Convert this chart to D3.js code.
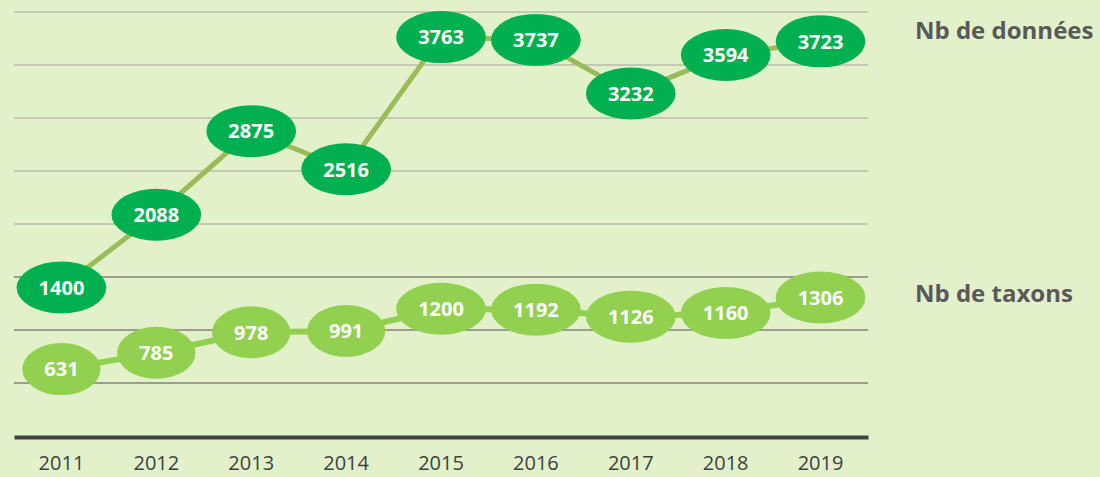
<!DOCTYPE html>
<html>
<head>
<meta charset="utf-8">
<script src="https://cdn.jsdelivr.net/npm/d3@7"></script>
<style>
  body { margin: 0; background: #e3f1cb; }
  svg { display: block; }
</style>
</head>
<body>
<svg id="chart" width="1100" height="477"></svg>
<script>
var years = ["2011", "2012", "2013", "2014", "2015", "2016", "2017", "2018", "2019"];
var donnees = [1400, 2088, 2875, 2516, 3763, 3737, 3232, 3594, 3723];
var taxons = [631, 785, 978, 991, 1200, 1192, 1126, 1160, 1306];
var gridTicks = [500, 1000, 1500, 2000, 2500, 3000, 3500, 4000];

var series = [
    {name: "Nb de données", values: donnees, line: "#9bbb59", fill: "#00b050", lw: 5, dy: -2},
    {name: "Nb de taxons", values: taxons, line: "#92d050", fill: "#92d050", lw: 6, dy: 4}
];

var svg = d3.select("#chart"),
    margin = {top: 12, left: 14},
    plotW = 854,
    plotH = 424,
    g = svg.append("g").attr("transform", "translate(" + margin.left + "," + margin.top + ")");

var x = d3.scaleBand().domain(years).range([0, plotW]);
var y = d3.scaleLinear().domain([0, 4000]).range([plotH, 0]);

function cx(i) { return x(years[i]) + x.bandwidth() / 2; }

// grid
g.append("g").selectAll("line")
    .data(gridTicks)
    .enter().append("line")
    .attr("x1", 0).attr("x2", plotW)
    .attr("y1", function (d) { return y(d); })
    .attr("y2", function (d) { return y(d); })
    .attr("stroke", function (d) { return d >= 2000 ? "#c4c8b4" : "#9a9e8c"; })
    .attr("stroke-width", 2);

// x axis
var xAxis = g.append("g")
    .attr("transform", "translate(0," + (plotH + 1) + ")")
    .call(d3.axisBottom(x).tickSize(0).tickPadding(19));
xAxis.select(".domain").attr("stroke", "#404540").attr("stroke-width", 4);
xAxis.selectAll("text")
    .attr("font-family", "'Open Sans', sans-serif")
    .attr("font-size", 20)
    .attr("fill", "#404040");

var line = d3.line()
    .x(function (d, i) { return cx(i); })
    .y(function (d) { return y(d); });

series.forEach(function (s) {
    g.append("path")
        .datum(s.values)
        .attr("fill", "none")
        .attr("stroke", s.line)
        .attr("stroke-width", s.lw)
        .attr("d", line);
});

series.forEach(function (s) {
    var pts = g.append("g").selectAll("g")
        .data(s.values)
        .enter().append("g")
        .attr("transform", function (d, i) { return "translate(" + cx(i) + "," + y(d) + ")"; });

    pts.append("ellipse").attr("fill", s.fill).attr("ry", 26);

    pts.append("text")
        .attr("text-anchor", "middle")
        .attr("dy", "0.36em")
        .attr("font-family", "'Open Sans', sans-serif")
        .attr("font-weight", "bold")
        .attr("font-size", 20)
        .attr("fill", "#ffffff")
        .text(function (d) { return d; })
        .each(function () {
            var w = this.getComputedTextLength();
            d3.select(this.parentNode).select("ellipse").attr("rx", w / 2 + 22);
        });

    g.append("text")
        .attr("x", 901)
        .attr("y", y(s.values[s.values.length - 1]) + s.dy)
        .attr("font-family", "'Open Sans', sans-serif")
        .attr("font-weight", "bold")
        .attr("font-size", 24)
        .attr("fill", "#595959")
        .text(s.name);
});
</script>
</body>
</html>
